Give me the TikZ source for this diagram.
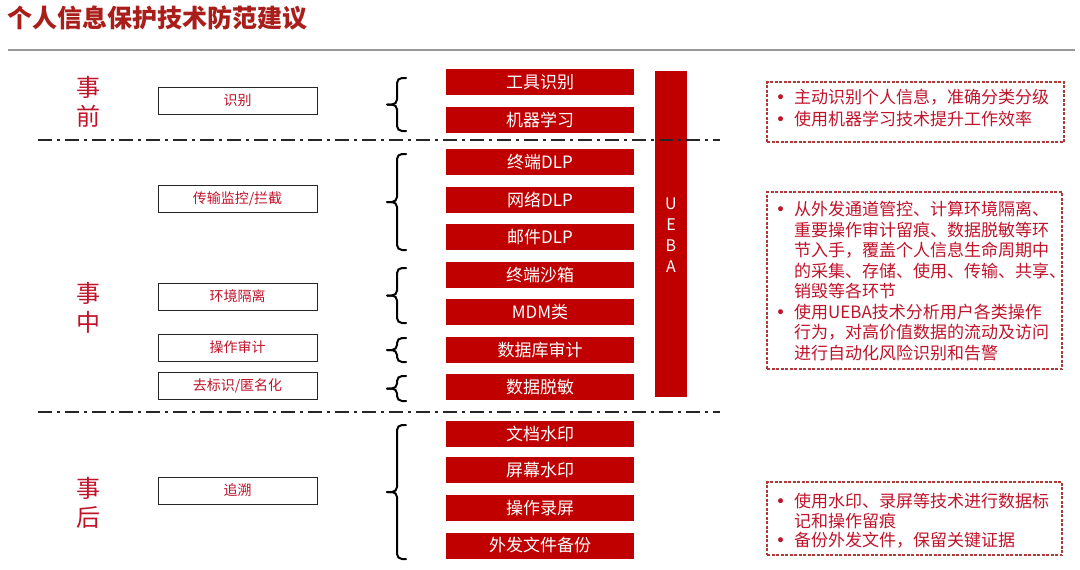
\documentclass[tikz,border=0pt]{standalone}
\usepackage{fontspec}
\setmainfont{Noto Sans CJK SC}
\newfontfamily\bulfont{DejaVu Sans}
\usetikzlibrary{calc}
\definecolor{titlered}{HTML}{A91E1A}
\definecolor{boxred}{HTML}{C00000}
\definecolor{labred}{HTML}{C0142B}
\definecolor{txtred}{HTML}{C0142B}
\definecolor{dashred}{HTML}{B03A3A}
\newcommand\nbul{\makebox[19pt][l]{\hspace{0.5pt}{\bulfont •}}}
\begin{document}
\begin{tikzpicture}[x=1pt,y=-1pt,
 redbox/.style={fill=boxred, text=white, minimum width=188pt, minimum height=26pt, inner sep=0pt, font=\fontsize{17}{18}\selectfont},
 whitebox/.style={draw=black!85, line width=0.8pt, minimum width=159pt, minimum height=27pt, inner sep=0pt, text=txtred, font=\fontsize{14}{16}\selectfont},
 phase/.style={text=labred, font=\fontsize{24}{28.5}\selectfont, align=center, inner sep=0pt},
 bracepath/.style={line width=2pt, rounded corners=5pt, line cap=round},
 sepline/.style={line width=1.5pt, dash pattern=on 14pt off 5pt on 3pt off 5pt, draw=black!85},
 notebox/.style={draw=dashred, line width=1.3pt, dash pattern=on 3pt off 1.5pt, inner sep=0pt},
 notetext/.style={text=txtred, font=\fontsize{17}{20.5}\selectfont, align=left, inner sep=0pt, anchor=north west}
]
\useasboundingbox[fill=white] (0,0) rectangle (1080,570);

% title
\node[anchor=west, inner sep=0pt, text=titlered, font=\fontsize{25}{28}\selectfont\bfseries] (title) at (7,18) {个人信息保护技术防范建议};
\coordinate (gl1) at (8,50);
\coordinate (gl2) at (1075,50);
\draw[line width=2pt, draw=black!40] (gl1) -- (gl2);

% phase labels
\node[phase] (pre) at (88,102) {事\\前};
\node[phase] (mid) at (88,308) {事\\中};
\node[phase] (post) at (88,503) {事\\后};

% white boxes
\node[whitebox] (w1) at (237.5,100.5) {识别};
\node[whitebox] (w2) at (237.5,198.5) {传输监控/拦截};
\node[whitebox] (w3) at (237.5,296.5) {环境隔离};
\node[whitebox] (w4) at (237.5,347.5) {操作审计};
\node[whitebox] (w5) at (237.5,386) {去标识/匿名化};
\node[whitebox] (w6) at (237.5,490.5) {追溯};

% red boxes
\node[redbox] (r1) at (540,82) {工具识别};
\node[redbox] (r2) at (540,119.5) {机器学习};
\node[redbox] (r3) at (540,162) {终端DLP};
\node[redbox] (r4) at (540,199.5) {网络DLP};
\node[redbox] (r5) at (540,237) {邮件DLP};
\node[redbox] (r6) at (540,275) {终端沙箱};
\node[redbox] (r7) at (540,312) {MDM类};
\node[redbox] (r8) at (540,350) {数据库审计};
\node[redbox] (r9) at (540,387) {数据脱敏};
\node[redbox] (r10) at (540,433.5) {文档水印};
\node[redbox] (r11) at (540,470) {屏幕水印};
\node[redbox] (r12) at (540,508) {操作录屏};
\node[redbox] (r13) at (540,545.5) {外发文件备份};

% UEBA bar
\node[fill=boxred, minimum width=32pt, minimum height=326pt, inner sep=0pt] (ueba) at (671,234) {};
\node[text=white, font=\fontsize{16}{21}\selectfont, align=center, inner sep=0pt] (uebat) at (671,235) {U\\E\\B\\A};

% braces
\coordinate (b1t) at (406,78);  \coordinate (b1b) at (406,131);
\coordinate (b2t) at (406,154); \coordinate (b2b) at (406,250);
\coordinate (b3t) at (406,268); \coordinate (b3b) at (406,323);
\coordinate (b4t) at (406,338); \coordinate (b4b) at (406,362);
\coordinate (b5t) at (406,376); \coordinate (b5b) at (406,401);
\coordinate (b6t) at (406,425); \coordinate (b6b) at (406,559);
\foreach \b in {b1,b2,b3,b4,b5,b6}{
  \coordinate (\b m) at ($(\b t)!0.5!(\b b)+(-19,0)$);
  \draw[bracepath] (\b t) -- ++(-9,0) |- (\b m);
  \draw[bracepath] (\b b) -- ++(-9,0) |- (\b m);
}

% separator lines
\coordinate (s1a) at (38,140); \coordinate (s1b) at (720,140);
\coordinate (s2a) at (38,412); \coordinate (s2b) at (720,412);
\draw[sepline] (s1a) -- (s1b);
\draw[sepline] (s2a) -- (s2b);

% note boxes
\node[notebox, minimum width=297pt, minimum height=60pt] (n1) at (915.5,112) {};
\node[notebox, minimum width=295pt, minimum height=177pt] (n2) at (914.5,280.5) {};
\node[notebox, minimum width=295pt, minimum height=73pt] (n3) at (914.5,518.5) {};

\node[notetext, font=\fontsize{17}{22}\selectfont] (t1) at (775,89) {\nbul 主动识别个人信息，准确分类分级\\
\nbul 使用机器学习技术提升工作效率};
\node[notetext] (t2) at (775,201) {\nbul 从外发通道管控、计算环境隔离、\\
\hspace*{19pt}重要操作审计留痕、数据脱敏等环\\
\hspace*{19pt}节入手，覆盖个人信息生命周期中\\
\hspace*{19pt}的采集、存储、使用、传输、共享、\\
\hspace*{19pt}销毁等各环节\\
\nbul 使用UEBA技术分析用户各类操作\\
\hspace*{19pt}行为，对高价值数据的流动及访问\\
\hspace*{19pt}进行自动化风险识别和告警};
\node[notetext, font=\fontsize{17}{19.5}\selectfont] (t3) at (775,493) {\nbul 使用水印、录屏等技术进行数据标\\
\hspace*{19pt}记和操作留痕\\
\nbul 备份外发文件，保留关键证据};
\end{tikzpicture}
\end{document}
